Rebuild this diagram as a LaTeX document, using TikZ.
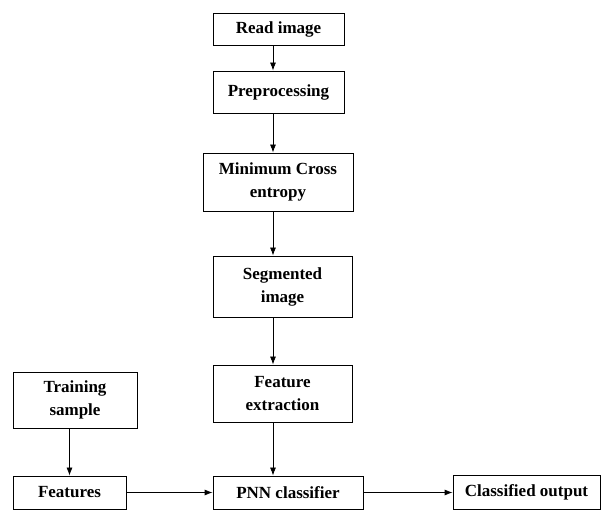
\documentclass[tikz,border=0pt]{standalone}
\usepackage{fontspec}
\setmainfont{Liberation Serif}
\usetikzlibrary{arrows.meta}

\begin{document}
\begin{tikzpicture}[x=1pt,y=-1pt,line width=0.8pt,>={Latex[length=8pt,width=6pt]},
font=\fontsize{17}{23}\selectfont\bfseries,
procbox/.style={draw,rectangle,inner sep=0pt,align=center}]

\useasboundingbox (0,0) rectangle (603,510);

\draw (278.5,29) node[procbox,minimum width=131,minimum height=32] (read) {Read image};
\draw (278.5,92) node[procbox,minimum width=131,minimum height=42] (pre) {Preprocessing};
\draw (278,182) node[procbox,minimum width=150,minimum height=58] (mce) {Minimum Cross\\entropy};
\draw (282.5,286.5) node[procbox,minimum width=139,minimum height=61] (seg) {Segmented\\image};
\draw (282.5,393.5) node[procbox,minimum width=139,minimum height=57] (feat) {Feature\\extraction};
\draw (75,400) node[procbox,minimum width=124,minimum height=56] (train) {Training\\sample};
\draw (69.5,492.5) node[procbox,minimum width=113,minimum height=33] (feats) {Features};
\draw (288,492.5) node[procbox,minimum width=150,minimum height=33] (pnn) {PNN classifier};
\draw (526.5,492.5) node[procbox,minimum width=147,minimum height=34] (out) {Classified output};

\coordinate (ax) at (273,0);
\draw[->] (read.south -| ax) -- (pre.north -| ax);
\draw[->] (pre.south -| ax) -- (mce.north -| ax);
\draw[->] (mce.south -| ax) -- (seg.north -| ax);
\draw[->] (seg.south -| ax) -- (feat.north -| ax);
\draw[->] (feat.south -| ax) -- (pnn.north -| ax);
\draw[->] (train.south -| feats) -- (feats.north);
\draw[->] (feats.east) -- (pnn.west);
\draw[->] (pnn.east) -- (out.west);

\end{tikzpicture}
\end{document}
